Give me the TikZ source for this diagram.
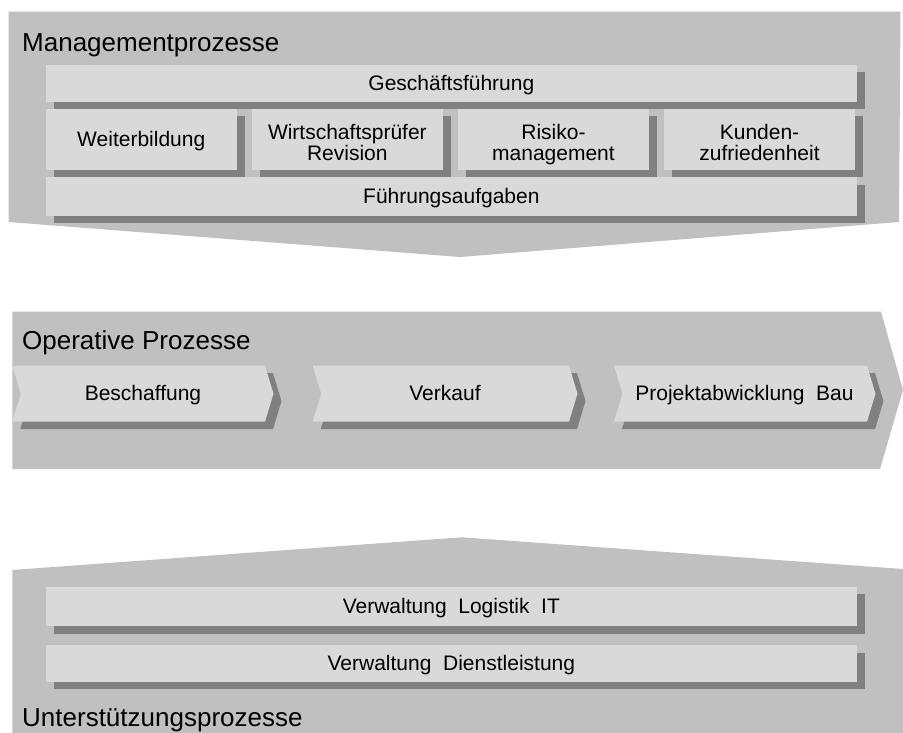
\documentclass[tikz,border=0pt]{standalone}
\usepackage{fontspec}
\setmainfont{Liberation Sans}
\usetikzlibrary{shadows}
\definecolor{panelgray}{RGB}{192,192,192}
\definecolor{boxgray}{RGB}{217,217,217}
\definecolor{shadegray}{RGB}{128,128,128}
\begin{document}
\begin{tikzpicture}[x=1pt,y=-1pt,
  panel/.style={fill=panelgray,draw=none},
  myshadow/.style={drop shadow={shadow xshift=8pt,shadow yshift=-7.5pt,fill=shadegray,opacity=1}},
  barbox/.style={fill=boxgray,draw=none,myshadow,inner sep=0pt,
    font=\fontsize{21}{21.5}\selectfont,text height=18pt,text depth=4pt},
  twoline/.style={text height=42.6pt,text depth=0pt},
  chev/.style={fill=boxgray,draw=none,myshadow},
  chevtext/.style={inner sep=0pt,font=\fontsize{21}{23}\selectfont,text height=18pt,text depth=4pt},
  title/.style={anchor=base west,inner sep=0pt,font=\fontsize{26}{28}\selectfont}
]
\useasboundingbox (0,0) rectangle (903,733);
\fill[white] (0,0) rectangle (903,733);

% ---------- Management panel ----------
\fill[panel] (8.5,11.7) -- (900.5,11.7) -- (899,222) -- (460,257) -- (8.5,222) -- cycle;
\node[title] (mgmt) at (22,51.5) {Managementprozesse};

\node[barbox,minimum width=811.3pt,minimum height=36.7pt] (gf) at (451.35,83.35) {Geschäftsführung};
\node[barbox,minimum width=191.1pt,minimum height=61pt] (wb) at (141.25,139.5) {Weiterbildung};
\node[barbox,twoline,minimum width=191.1pt,minimum height=61pt] (wp) at (347.35,139.5)
  {\begin{tabular}[b]{@{}c@{}}Wirtschaftsprüfer\\Revision\end{tabular}};
\node[barbox,twoline,minimum width=191.1pt,minimum height=61pt] (rm) at (553.45,139.5)
  {\begin{tabular}[b]{@{}c@{}}Risiko-\\management\end{tabular}};
\node[barbox,twoline,minimum width=191.1pt,minimum height=61pt] (kz) at (759.55,139.5)
  {\begin{tabular}[b]{@{}c@{}}Kunden-\\zufriedenheit\end{tabular}};
\node[barbox,minimum width=811.3pt,minimum height=38.5pt] (fa) at (451.35,196.75) {Führungsaufgaben};

% ---------- Operative panel ----------
\fill[panel] (12.3,311.7) -- (881,311.7) -- (903,390) -- (880,469) -- (12.3,469) -- cycle;
\node[title] (op) at (22,349.5) {Operative Prozesse};

\fill[chev] (12.3,365.7) -- (265,365.7) -- (273.5,393.7) -- (265,421.7) -- (12.3,421.7) -- (20.8,393.7) -- cycle;
\node[chevtext] (bes) at (143,393.7) {Beschaffung};
\fill[chev] (312.7,365.7) -- (569,365.7) -- (577.5,393.7) -- (569,421.7) -- (312.7,421.7) -- (321.2,393.7) -- cycle;
\node[chevtext] (vk) at (445,393.7) {Verkauf};
\fill[chev] (614,365.7) -- (867,365.7) -- (875.5,393.7) -- (867,421.7) -- (614,421.7) -- (622.5,393.7) -- cycle;
\node[chevtext] (pb) at (744.5,393.7) {Projektabwicklung\ \ Bau};

% ---------- Support panel ----------
\fill[panel] (12.3,570) -- (461.7,537.3) -- (903,569) -- (903,733) -- (12.3,733) -- cycle;
\node[barbox,minimum width=811.3pt,minimum height=39.3pt] (vli) at (451.35,606.35) {Verwaltung\ \ Logistik\ \ IT};
\node[barbox,minimum width=811.3pt,minimum height=36.7pt] (vd) at (451.35,663.35) {Verwaltung\ \ Dienstleistung};
\node[title] (up) at (22,726) {Unterstützungsprozesse};
\end{tikzpicture}
\end{document}
